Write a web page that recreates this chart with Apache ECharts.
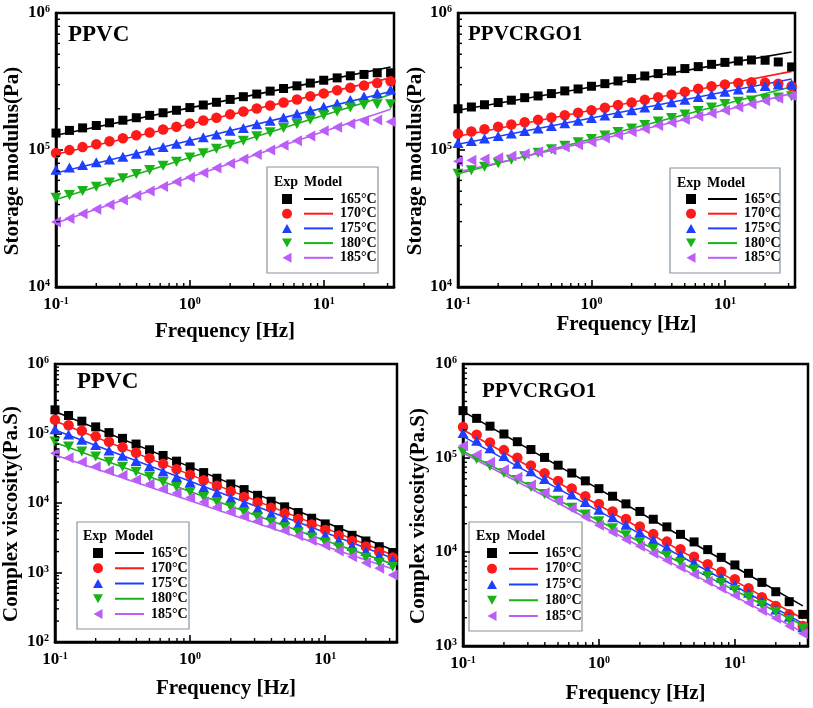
<!DOCTYPE html>
<html><head><meta charset="utf-8">
<script src="https://cdn.jsdelivr.net/npm/echarts@6/dist/echarts.min.js"></script>
<style>html,body{margin:0;padding:0;background:#fff}#c{width:813px;height:708px}</style>
</head><body><div id="c"></div>
<script>
// ---------- data ----------
const freq = [0.1,0.126,0.158,0.2,0.251,0.316,0.398,0.501,0.631,0.794,1,1.26,1.58,2,2.51,3.16,3.98,5.01,6.31,7.94,10,12.6,15.8,20,25.1,31.6];
const modelFreq = [0.1, 1, 10, 31.6];
const temps = ['165°C','170°C','175°C','180°C','185°C'];
const xMinorTicks = [0.2,0.3,0.4,0.5,0.6,0.7,0.8,0.9,2,3,4,5,6,7,8,9,20,30];
const minorMult = [2,3,4,5,6,7,8,9];

// PPVC storage modulus (Pa)
const gPPVC165 = [133000,139000,145000,151000,158000,165000,172000,179000,187000,195000,204000,213000,223000,234000,245000,256000,269000,281000,294000,308000,323000,336000,348000,356000,366000,366000];
const gPPVC170 = [95100,99800,105000,110000,116000,122000,128000,134000,141000,148000,156000,164000,172000,182000,191000,201000,211000,222000,234000,247000,259000,273000,285000,296000,308000,317000];
const gPPVC175 = [71800,74500,77600,81300,85100,89100,94000,99300,105000,111000,117000,124000,130000,138000,145000,154200,163300,173000,183700,195000,206500,218800,231700,245500,260000,275400];
const gPPVC180 = [44900,47000,50200,54000,57800,62100,66700,71400,76700,82200,88300,94800,102000,109000,117000,126000,135000,145000,155000,166000,179000,191000,204000,213000,216000,216000];
const gPPVC185 = [29800,31600,34200,36900,39900,43100,46500,50200,54200,58600,63200,68200,73800,79600,86100,92900,100200,108400,117000,126500,138000,146600,155600,163700,165600,161100];
const mgPPVC165 = [128000,203000,321000,404000];
const mgPPVC170 = [93000,155000,259000,336000];
const mgPPVC175 = [68000,117500,203000,267000];
const mgPPVC180 = [43600,88300,179000,254000];
const mgPPVC185 = [29300,63200,136500,198000];

// PPVCRGO1 storage modulus (Pa)
const gRGO165 = [200000,206000,214000,222000,231000,241000,248000,258000,270000,279000,292000,305000,319000,332000,347000,361000,377000,393000,406000,422000,436000,446000,454000,452000,439000,404000];
const gRGO170 = [131500,136500,141900,147600,153500,159600,166000,172600,179500,187100,195000,203700,212800,222300,232300,242700,253500,266100,279900,291700,301300,308300,312600,310500,304100,291700];
const gRGO175 = [112500,116400,121300,126500,131800,137400,143500,150000,156700,163700,171000,178600,186600,195000,204200,213300,222800,232800,243200,254700,266100,276700,285100,293800,300600,302000];
const gRGO180 = [67100,71100,75500,80000,84900,89900,95300,101200,107200,113800,120500,127600,135500,143600,152400,161400,171000,181600,192300,204200,216300,224900,230100,236000,242100,246600];
const gRGO185 = [82600,84100,85900,87900,90400,94000,96600,100500,105200,109400,114300,122500,128800,135800,143200,150700,158900,167100,176200,185800,195400,206100,216800,228600,238800,248900];
const mgRGO165 = [195000,288000,427000,519000];
const mgRGO170 = [126000,195000,302000,375000];
const mgRGO175 = [110000,171000,266000,330000];
const mgRGO180 = [67100,120500,216300,290000];
const mgRGO185 = [69000,116000,195000,259000];

// PPVC complex viscosity (Pa.S)
const vPPVC165 = [219000,181600,150300,124500,103000,85100,70500,58300,48300,40000,33100,27400,22700,18800,15600,12900,10600,8810,7290,6040,5000,4140,3430,2840,2350,1940];
const vPPVC170 = [157400,131200,109400,91000,75900,63200,52700,44000,36600,30500,25400,21200,17700,14700,12200,10200,8510,7100,5900,4920,4100,3420,2850,2370,1980,1640];
const vPPVC175 = [115300,96800,81100,68100,57100,47900,40200,33700,28300,23700,19900,16700,14000,11700,9860,8260,6930,5820,4890,4090,3440,2880,2420,2040,1760,1510];
const vPPVC180 = [76700,64900,54900,46500,39300,33200,28100,23800,20100,17000,14400,12200,10300,8710,7360,6220,5270,4460,3770,3190,2700,2280,1930,1630,1380,1210];
const vPPVC185 = [52000,44900,38800,33500,29000,25000,21600,18700,16100,13900,12000,10300,8790,7520,6430,5500,4700,4020,3390,2880,2450,2040,1680,1380,1150,923];
const mvPPVC165 = [207000,33100,5280,2110];
const mvPPVC170 = [151000,25600,4350,1790];
const mvPPVC175 = [112000,20500,3750,1600];
const mvPPVC180 = [74100,14600,2880,1320];
const mvPPVC185 = [49000,10800,2390,1120];

// PPVCRGO1 complex viscosity (Pa.S)
const vRGO165 = [319000,264000,218000,180000,149000,123000,101400,83800,69200,57100,47200,39200,32500,27000,22300,18500,15400,12800,10600,8770,7280,5930,4750,3780,2960,2170];
const vRGO170 = [213800,177000,146600,121300,100500,83400,69000,57100,47300,39200,32400,27000,22400,18700,15500,12900,10700,8910,7410,6170,5130,4110,3300,2670,2170,1630];
const vRGO175 = [184500,152800,126800,105000,87100,72100,59700,49500,41000,34000,28200,23400,19500,16200,13500,11200,9310,7740,6440,5360,4460,3690,3010,2450,2050,1580];
const vRGO180 = [116700,97700,82200,69200,58300,49200,41500,35000,29500,25000,21200,17900,15100,12800,10800,9140,7730,6530,5520,4670,3940,3300,2730,2320,1890,1540];
const vRGO185 = [135200,108000,90000,75000,62500,51500,42600,35200,28900,23600,19200,16200,13600,11500,9680,8170,6890,5790,4890,4110,3470,2890,2380,1970,1630,1360];
const mvRGO165 = [313000,46600,6920,2670];
const mvRGO170 = [200000,31400,4930,1950];
const mvRGO175 = [170000,27200,4350,1740];
const mvRGO180 = [117800,21400,3900,1660];
const mvRGO185 = [113000,19500,3370,1400];

// ---------- styles / layout ----------
const FONT = '"Liberation Serif","Times New Roman",serif';
const COLORS = ['#000000','#ff1a1a','#1f3fff','#19b319','#bb5df7'];
const SYMS = [
  {symbol:'rect', size:9},
  {symbol:'circle', size:10.5},
  {symbol:'path://M5,0L10,9L0,9Z', size:[11,10]},
  {symbol:'path://M0,0L10,0L5,9Z', size:[11,10]},
  {symbol:'path://M9,0L9,10L0,5Z', size:[10,11]}
];
const panels = [
  {title:'PPVC', tpos:[68,24], tsize:23, grid:{left:56,top:13,width:338,height:274}, ymin:1e4, ymax:1e6, xmax:33.5,
   yname:'Storage modulus(Pa)', ynameGap:33, xnameGap:34,
   exp:[gPPVC165,gPPVC170,gPPVC175,gPPVC180,gPPVC185], model:[mgPPVC165,mgPPVC170,mgPPVC175,mgPPVC180,mgPPVC185],
   leg:{left:282, top:192, gap:0.7}, box:[267,167,111,106], head:[274,304,182]},
  {title:'PPVCRGO1', tpos:[468,24], tsize:21, grid:{left:458,top:13,width:337,height:274}, ymin:1e4, ymax:1e6, xmax:33.5,
   yname:'Storage modulus(Pa)', ynameGap:30, xnameGap:27,
   exp:[gRGO165,gRGO170,gRGO175,gRGO180,gRGO185], model:[mgRGO165,mgRGO170,mgRGO175,mgRGO180,mgRGO185],
   leg:{left:686, top:192, gap:0.7}, box:[670,168,110,105], head:[677,707,183]},
  {title:'PPVC', tpos:[77,371], tsize:23, grid:{left:55,top:364,width:342,height:278}, ymin:1e2, ymax:1e6, xmax:34,
   yname:'Complex viscosity(Pa.S)', ynameGap:33, xnameGap:36,
   exp:[vPPVC165,vPPVC170,vPPVC175,vPPVC180,vPPVC185], model:[mvPPVC165,mvPPVC170,mvPPVC175,mvPPVC180,mvPPVC185],
   leg:{left:93, top:546, gap:1.25}, box:[77,522,112,107], head:[83,115,536]},
  {title:'PPVCRGO1', tpos:[482,381], tsize:21, grid:{left:463,top:364,width:345,height:282}, ymin:1e3, ymax:1e6, xmax:34.5,
   yname:'Complex viscosity(Pa.S)', ynameGap:34, xnameGap:37,
   exp:[vRGO165,vRGO170,vRGO175,vRGO180,vRGO185], model:[mvRGO165,mvRGO170,mvRGO175,mvRGO180,mvRGO185],
   leg:{left:487, top:546, gap:1.75}, box:[469,522,113,109], head:[476,507,536]}
];

function powLabel(v){
  const l = Math.log10(v); const e = Math.round(l);
  if (Math.abs(l - e) > 1e-6) return '';
  return '{b|10}{s|' + e + '}';
}
const LABEL_RICH = {
  b:{fontFamily:FONT, fontWeight:'bold', fontSize:17, color:'#000'},
  s:{fontFamily:FONT, fontWeight:'bold', fontSize:10, color:'#000', verticalAlign:'top', lineHeight:10}
};
const legRich = {sp:{width:7}, t:{fontFamily:FONT, fontWeight:'bold', fontSize:14, lineHeight:16, color:'#000'}};
COLORS.forEach((c,i)=>{ legRich['l'+i] = {width:29, height:2, backgroundColor:c}; });

const grid=[], xAxis=[], yAxis=[], series=[], legend=[], title=[], graphic=[];
panels.forEach((p,i)=>{
  grid.push(Object.assign({show:true, borderColor:'#000', borderWidth:2.5, backgroundColor:'transparent', containLabel:false, outerBoundsMode:'none'}, p.grid));
  xAxis.push({type:'log', logBase:10, gridIndex:i, min:0.1, max:p.xmax,
    name:'Frequency [Hz]', nameLocation:'middle', nameGap:p.xnameGap,
    nameTextStyle:{fontFamily:FONT, fontWeight:'bold', fontSize:21, color:'#000'},
    axisLine:{show:true, lineStyle:{color:'#000', width:2.5}},
    axisTick:{show:true, inside:true, length:7, lineStyle:{color:'#000', width:1.6}},
    splitLine:{show:false}, minorTick:{show:false},
    axisLabel:{margin:9, formatter:powLabel, rich:LABEL_RICH}});
  yAxis.push({type:'log', logBase:10, gridIndex:i, min:p.ymin, max:p.ymax,
    name:p.yname, nameLocation:'middle', nameGap:p.ynameGap,
    nameTextStyle:{fontFamily:FONT, fontWeight:'bold', fontSize:21, color:'#000', padding:[0,22,0,0]},
    axisLine:{show:true, lineStyle:{color:'#000', width:2.5}},
    axisTick:{show:true, inside:true, length:7, lineStyle:{color:'#000', width:1.6}},
    splitLine:{show:false}, minorTick:{show:false},
    axisLabel:{margin:6, formatter:powLabel, rich:LABEL_RICH}});
  p.model.forEach((arr,k)=>{
    series.push({type:'line', name:temps[k]+' model', xAxisIndex:i, yAxisIndex:i,
      data:modelFreq.map((f,j)=>[f,arr[j]]), symbol:'none', showSymbol:false,
      lineStyle:{color:COLORS[k], width:1.6}, itemStyle:{color:COLORS[k]}, z:3, silent:true});
  });
  p.exp.forEach((arr,k)=>{
    series.push({type:'scatter', name:temps[k], xAxisIndex:i, yAxisIndex:i,
      data:freq.map((f,j)=>[f,arr[j]]), symbol:SYMS[k].symbol, symbolSize:SYMS[k].size,
      itemStyle:{color:COLORS[k], opacity:1}, z:4, silent:true});
  });
  // minor ticks (log positions) drawn through the axes' scales
  const yMinor = [];
  for (let d = Math.round(Math.log10(p.ymin)); d < Math.round(Math.log10(p.ymax)); d++) {
    minorMult.forEach(m => yMinor.push(m * Math.pow(10, d)));
  }
  series.push({type:'custom', xAxisIndex:i, yAxisIndex:i, silent:true, z:6,
    data:xMinorTicks.map(v=>[v, p.ymin]),
    renderItem:(params, api)=>{
      const cs = params.coordSys; const pt = api.coord([api.value(0), api.value(1)]);
      const yb = cs.y + cs.height;
      return {type:'line', shape:{x1:pt[0], y1:yb, x2:pt[0], y2:yb-4}, style:{stroke:'#000', lineWidth:1.4}};
    }});
  series.push({type:'custom', xAxisIndex:i, yAxisIndex:i, silent:true, z:6,
    data:yMinor.map(v=>[0.1, v]),
    renderItem:(params, api)=>{
      const cs = params.coordSys; const pt = api.coord([api.value(0), api.value(1)]);
      return {type:'line', shape:{x1:cs.x, y1:pt[1], x2:cs.x+4, y2:pt[1]}, style:{stroke:'#000', lineWidth:1.4}};
    }});
  legend.push({orient:'vertical', left:p.leg.left, top:p.leg.top, padding:0, itemWidth:10, itemHeight:10,
    itemGap:p.leg.gap, selectedMode:false, data:temps,
    formatter:(name)=>{ const k = temps.indexOf(name); return '{sp|}{l'+k+'|}{sp|}{t|'+name+'}'; },
    textStyle:{rich:legRich}});
  title.push({text:p.title, left:p.tpos[0], top:p.tpos[1], padding:0,
    textStyle:{fontFamily:FONT, fontWeight:'bold', fontSize:p.tsize, color:'#000'}});
  graphic.push({type:'rect', shape:{x:p.box[0], y:p.box[1], width:p.box[2], height:p.box[3]},
    style:{fill:'none', stroke:'#8794a1', lineWidth:1.2}, silent:true});
  graphic.push({type:'text', x:p.head[0], y:p.head[2], silent:true,
    style:{text:'Exp', font:'bold 14px '+FONT, fill:'#000', verticalAlign:'middle'}});
  graphic.push({type:'text', x:p.head[1], y:p.head[2], silent:true,
    style:{text:'Model', font:'bold 14px '+FONT, fill:'#000', verticalAlign:'middle'}});
});

const chart = echarts.init(document.getElementById('c'), null, {renderer:'canvas'});
chart.setOption({animation:false, backgroundColor:'#ffffff', title, grid, xAxis, yAxis, legend, graphic, series, tooltip:{show:false}});
</script></body></html>
